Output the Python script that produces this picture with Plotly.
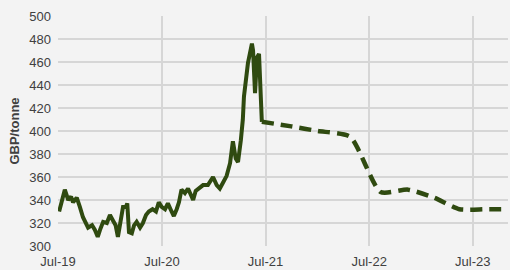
import plotly.graph_objects as go

# Historic prices (GBP/tonne)
hist_dates = [
    "2019-07-05", "2019-07-25", "2019-08-06", "2019-08-16", "2019-08-23", "2019-09-05",
    "2019-09-16", "2019-09-27", "2019-10-15", "2019-10-29", "2019-11-08", "2019-11-18",
    "2019-11-26", "2019-12-07", "2019-12-20", "2019-12-31", "2020-01-11", "2020-01-20",
    "2020-01-28", "2020-02-08", "2020-02-15", "2020-02-25", "2020-03-01", "2020-03-07",
    "2020-03-17", "2020-03-25", "2020-04-03", "2020-04-15", "2020-04-25", "2020-05-06",
    "2020-05-16", "2020-05-29", "2020-06-10", "2020-06-20", "2020-06-30", "2020-07-12",
    "2020-07-22", "2020-08-04", "2020-08-12", "2020-08-22", "2020-08-30", "2020-09-08",
    "2020-09-20", "2020-10-01", "2020-10-11", "2020-10-19", "2020-10-28", "2020-11-09",
    "2020-11-23", "2020-12-10", "2020-12-28", "2021-01-10", "2021-01-21", "2021-02-01",
    "2021-02-14", "2021-02-26", "2021-03-08", "2021-03-18", "2021-03-26", "2021-04-05",
    "2021-04-12", "2021-04-16", "2021-04-23", "2021-04-30", "2021-05-14", "2021-05-18",
    "2021-05-25", "2021-06-01", "2021-06-08", "2021-06-15", "2021-06-18",
]
hist_values = [
    330, 349, 340, 343, 338, 342,
    334, 325, 316, 318, 314, 308,
    314, 321, 320, 327, 322, 318,
    308, 323, 334, 334, 337, 312,
    311, 318, 321, 316, 320, 327,
    330, 332, 330, 338, 334, 332,
    337, 330, 326, 332, 338, 349,
    346, 350, 344, 340, 348, 350,
    353, 353, 360, 353, 350, 355,
    361, 372, 391, 376, 373, 392,
    410, 430, 442, 459, 476, 470,
    433, 464, 467, 430, 408,
]

# Forecast (GBP/tonne)
fc_dates = [
    "2021-06-18", "2021-09-30", "2021-12-31", "2022-04-25", "2022-08-10",
    "2022-11-15", "2023-02-15", "2023-05-15", "2023-08-15", "2023-11-15",
]
fc_values = [408, 404, 400, 395, 347, 349, 342, 332, 332, 332]

tick_dates = ["2019-07-01", "2020-07-01", "2021-07-01", "2022-07-01", "2023-07-01"]
tick_labels = ["Jul-19", "Jul-20", "Jul-21", "Jul-22", "Jul-23"]

line_color = "#2f4a10"
bg = "#f3f3f3"
grid = "#d6d6d6"
font_color = "#404040"

fig = go.Figure()
fig.add_trace(go.Scatter(
    x=fc_dates, y=fc_values, mode="lines",
    line=dict(color=line_color, width=4.5, dash="12px,7px", shape="spline", smoothing=0.6),
    hoverinfo="skip", showlegend=False,
))
fig.add_trace(go.Scatter(
    x=hist_dates, y=hist_values, mode="lines",
    line=dict(color=line_color, width=4),
    showlegend=False,
))

fig.update_layout(
    width=510, height=270,
    margin=dict(l=58, r=2, t=16, b=24),
    paper_bgcolor=bg, plot_bgcolor=bg,
    font=dict(family="Liberation Sans, Arial, sans-serif", size=13, color=font_color),
    xaxis=dict(
        range=["2019-07-01", "2023-11-02"],
        tickvals=tick_dates, ticktext=tick_labels,
        showgrid=True, gridcolor=grid, gridwidth=1.5,
        zeroline=False, showline=False, ticks="",
        automargin=False, ticklabelstandoff=6,
        tickfont=dict(size=13, color=font_color),
    ),
    yaxis=dict(
        range=[300, 500], dtick=20,
        showgrid=True, gridcolor=grid, gridwidth=1.5,
        zeroline=False, showline=False, ticks="",
        automargin=False, ticklabelstandoff=6,
        tickfont=dict(size=13, color=font_color),
        title=dict(text="<b>GBP/tonne</b>", font=dict(size=13, color=font_color), standoff=6),
    ),
)

fig.write_html(
    "out.html",
    config={"displayModeBar": False},
    post_script="document.body.style.margin='0';document.body.style.background='#f3f3f3';",
)
